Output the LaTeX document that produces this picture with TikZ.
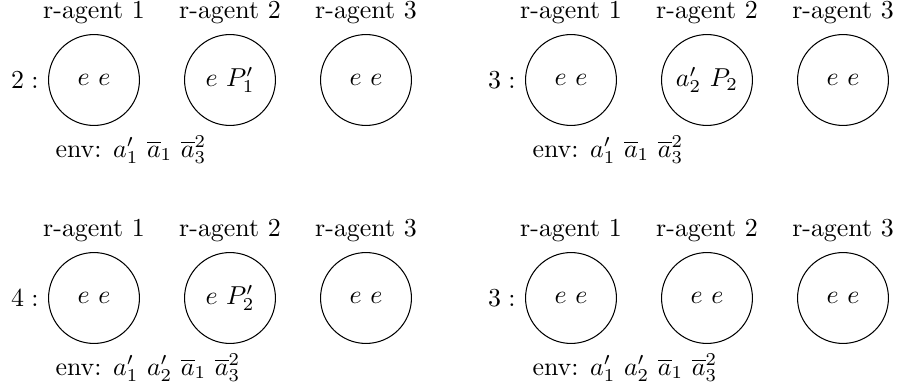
\documentclass[tikz,border=0pt]{standalone}
\begin{document}
\begin{tikzpicture}[x=0.3861pt,y=-0.3861pt,
  agent/.style={draw,circle,line width=0.4pt,minimum size=35.1pt,inner sep=0pt},
  lbl/.style={anchor=base,inner sep=0pt},
  stp/.style={anchor=base east,inner sep=0pt},
  envl/.style={anchor=base west,inner sep=0pt}]
\useasboundingbox (0,0) rectangle (898,387);
% panel (dx,dy), step label, contents
\foreach \dx/\dy/\st/\ca/\cb/\cc/\env/\nm in {
  0/0/2/{$e\ e$}/{$e\ P_1'$}/{$e\ e$}/{env: $a_1'$ $\overline{a}_1$ $\overline{a}_3^2$}/p1,
  477/0/3/{$e\ e$}/{$a_2'\ P_2$}/{$e\ e$}/{env: $a_1'$ $\overline{a}_1$ $\overline{a}_3^2$}/p2,
  0/218/4/{$e\ e$}/{$e\ P_2'$}/{$e\ e$}/{env: $a_1'$ $a_2'$ $\overline{a}_1$ $\overline{a}_3^2$}/p3,
  477/218/3/{$e\ e$}/{$e\ e$}/{$e\ e$}/{env: $a_1'$ $a_2'$ $\overline{a}_1$ $\overline{a}_3^2$}/p4}{
  \begin{scope}[shift={(\dx,\dy)}]
    \node[agent] (\nm a1) at (94,80) {\ca};
    \node[agent] (\nm a2) at (230,80) {\cb};
    \node[agent] (\nm a3) at (366,80) {\cc};
    \node[lbl] (\nm l1) at (94,18) {r-agent 1};
    \node[lbl] (\nm l2) at (230,18) {r-agent 2};
    \node[lbl] (\nm l3) at (366,18) {r-agent 3};
    \node[stp] (\nm s) at (39,89) {$\st:$};
    \node[envl] (\nm e) at (55,157) {\env};
  \end{scope}
}
\end{tikzpicture}
\end{document}
